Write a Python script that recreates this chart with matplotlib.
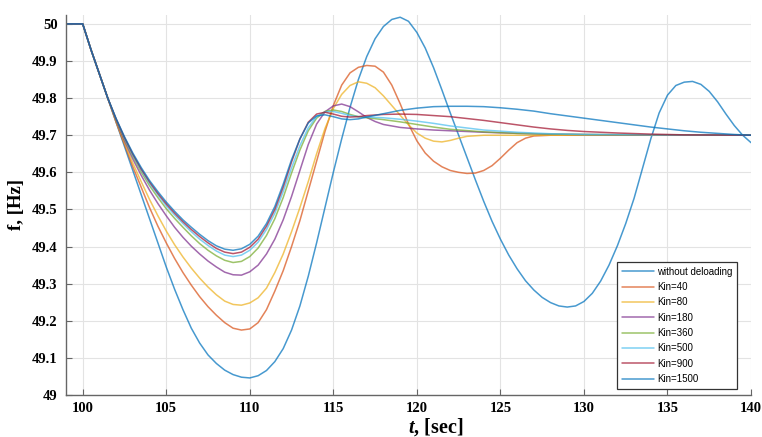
import matplotlib.pyplot as plt

# frequency response f(t) for the different deloading gains
no_deload = [(99, 50), (100, 50), (100.5, 49.93), (101, 49.865), (101.5, 49.80), (102, 49.735),
             (102.5, 49.67), (103, 49.605), (103.5, 49.54), (104, 49.475), (104.5, 49.41),
             (105, 49.345), (105.5, 49.285), (106, 49.23), (106.5, 49.18), (107, 49.14),
             (107.5, 49.108), (108, 49.085), (108.5, 49.067), (109, 49.055), (109.5, 49.048),
             (110, 49.046), (110.5, 49.052), (111, 49.066), (111.5, 49.09), (112, 49.125),
             (112.5, 49.175), (113, 49.24), (113.5, 49.32), (114, 49.41), (114.5, 49.505),
             (115, 49.60), (115.5, 49.69), (116, 49.775), (116.5, 49.85), (117, 49.912),
             (117.5, 49.96), (118, 49.993), (118.5, 50.012), (119, 50.018), (119.5, 50.007),
             (120, 49.977), (120.5, 49.935), (121, 49.882), (121.5, 49.822), (122, 49.76),
             (122.5, 49.70), (123, 49.64), (123.5, 49.58), (124, 49.522), (124.5, 49.468),
             (125, 49.42), (125.5, 49.377), (126, 49.34), (126.5, 49.308), (127, 49.283),
             (127.5, 49.263), (128, 49.249), (128.5, 49.24), (129, 49.237), (129.5, 49.24),
             (130, 49.252), (130.5, 49.274), (131, 49.307), (131.5, 49.35), (132, 49.402),
             (132.5, 49.462), (133, 49.53), (133.5, 49.61), (134, 49.69), (134.5, 49.76),
             (135, 49.808), (135.5, 49.834), (136, 49.843), (136.5, 49.845), (137, 49.837),
             (137.5, 49.818), (138, 49.79), (138.5, 49.757), (139, 49.726), (139.5, 49.70),
             (140, 49.68)]

kin40 = [(99, 50), (100, 50), (100.5, 49.93), (101, 49.865), (101.5, 49.80), (102, 49.735),
         (102.5, 49.675), (103, 49.615), (103.5, 49.56), (104, 49.505), (104.5, 49.455),
         (105, 49.41), (105.5, 49.368), (106, 49.33), (106.5, 49.296), (107, 49.265),
         (107.5, 49.238), (108, 49.215), (108.5, 49.195), (109, 49.18),
         (109.5, 49.175), (110, 49.178), (110.5, 49.195), (111, 49.23), (111.5, 49.28),
         (112, 49.335), (112.5, 49.40), (113, 49.47), (113.5, 49.55), (114, 49.63),
         (114.5, 49.71), (115, 49.78), (115.5, 49.835), (116, 49.868), (116.5, 49.883),
         (117, 49.888), (117.5, 49.886), (118, 49.87), (118.5, 49.835), (119, 49.785),
         (119.5, 49.73), (120, 49.685), (120.5, 49.652), (121, 49.63), (121.5, 49.615),
         (122, 49.605), (122.5, 49.60), (123, 49.597), (123.5, 49.598), (124, 49.605),
         (124.5, 49.618), (125, 49.638), (125.5, 49.66), (126, 49.68), (126.5, 49.692),
         (127, 49.698), (128, 49.70), (130, 49.70), (140, 49.70)]

kin80 = [(99, 50), (100, 50), (100.5, 49.93), (101, 49.865), (101.5, 49.80), (102, 49.737),
         (102.5, 49.68), (103, 49.625), (103.5, 49.575), (104, 49.527), (104.5, 49.483),
         (105, 49.442), (105.5, 49.405), (106, 49.372), (106.5, 49.342), (107, 49.315),
         (107.5, 49.291), (108, 49.27), (108.5, 49.253), (109, 49.244),
         (109.5, 49.242), (110, 49.248), (110.5, 49.262), (111, 49.288), (111.5, 49.33),
         (112, 49.38), (112.5, 49.44), (113, 49.505), (113.5, 49.575), (114, 49.65),
         (114.5, 49.718), (115, 49.772), (115.5, 49.81), (116, 49.834), (116.5, 49.844),
         (117, 49.84), (117.5, 49.828), (118, 49.806), (118.5, 49.78), (119, 49.754),
         (119.5, 49.728), (120, 49.706), (120.5, 49.692), (121, 49.684), (121.5, 49.682),
         (122, 49.686), (122.5, 49.692), (123, 49.697), (124, 49.70), (140, 49.70)]

kin180 = [(99, 50), (100, 50), (100.5, 49.93), (101, 49.865), (101.5, 49.80), (102, 49.74),
          (102.5, 49.685), (103, 49.636), (103.5, 49.592), (104, 49.552), (104.5, 49.516),
          (105, 49.483), (105.5, 49.452), (106, 49.425), (106.5, 49.401), (107, 49.38),
          (107.5, 49.361), (108, 49.345), (108.5, 49.331), (109, 49.324),
          (109.5, 49.323), (110, 49.332), (110.5, 49.35), (111, 49.38), (111.5, 49.42),
          (112, 49.472), (112.5, 49.535), (113, 49.605), (113.5, 49.675), (114, 49.73),
          (114.5, 49.763), (115, 49.779), (115.5, 49.784), (116, 49.777), (116.5, 49.763),
          (117, 49.748), (117.5, 49.737), (118, 49.729), (119, 49.721), (120, 49.717),
          (121, 49.714), (122, 49.712), (124, 49.708), (126, 49.705), (128, 49.703),
          (130, 49.702), (135, 49.70), (140, 49.70)]

kin360 = [(99, 50), (100, 50), (100.5, 49.93), (101, 49.865), (101.5, 49.80), (102, 49.742),
          (102.5, 49.69), (103, 49.643), (103.5, 49.601), (104, 49.564), (104.5, 49.532),
          (105, 49.502), (105.5, 49.476), (106, 49.452), (106.5, 49.429), (107, 49.408),
          (107.5, 49.39), (108, 49.375), (108.5, 49.363), (109, 49.357),
          (109.5, 49.36), (110, 49.373), (110.5, 49.396), (111, 49.43), (111.5, 49.475),
          (112, 49.532), (112.5, 49.598), (113, 49.66), (113.5, 49.712), (114, 49.746),
          (114.5, 49.764), (115, 49.768), (115.5, 49.764), (116, 49.756), (116.5, 49.75),
          (117, 49.747), (118, 49.742), (119, 49.736), (120, 49.729), (121, 49.722),
          (122, 49.716), (124, 49.709), (126, 49.705), (128, 49.703), (130, 49.702), (140, 49.70)]

kin500 = [(99, 50), (100, 50), (100.5, 49.93), (101, 49.865), (101.5, 49.80), (102, 49.743),
          (102.5, 49.692), (103, 49.646), (103.5, 49.606), (104, 49.57), (104.5, 49.539),
          (105, 49.51), (105.5, 49.485), (106, 49.462), (106.5, 49.44), (107, 49.42),
          (107.5, 49.403), (108, 49.388), (108.5, 49.377), (109, 49.373),
          (109.5, 49.377), (110, 49.39), (110.5, 49.412), (111, 49.446), (111.5, 49.49),
          (112, 49.548), (112.5, 49.612), (113, 49.672), (113.5, 49.72), (114, 49.75),
          (114.5, 49.763), (115, 49.764), (115.5, 49.759), (116, 49.753), (116.5, 49.75),
          (117, 49.749), (118, 49.747), (119, 49.743), (120, 49.738), (121, 49.732),
          (122, 49.725), (124, 49.714), (126, 49.708), (128, 49.704), (130, 49.702), (140, 49.70)]

kin900 = [(99, 50), (100, 50), (100.5, 49.93), (101, 49.865), (101.5, 49.80), (102, 49.744),
          (102.5, 49.694), (103, 49.649), (103.5, 49.609), (104, 49.574), (104.5, 49.543),
          (105, 49.515), (105.5, 49.49), (106, 49.467), (106.5, 49.446), (107, 49.427),
          (107.5, 49.41), (108, 49.395), (108.5, 49.385), (109, 49.381),
          (109.5, 49.385), (110, 49.398), (110.5, 49.42), (111, 49.455), (111.5, 49.50),
          (112, 49.56), (112.5, 49.628), (113, 49.69), (113.5, 49.735), (114, 49.757),
          (114.5, 49.762), (115, 49.757), (115.5, 49.751), (116, 49.749), (116.5, 49.75),
          (117, 49.753), (118, 49.756), (119, 49.757), (120, 49.756), (121, 49.753),
          (122, 49.75), (123, 49.745), (124, 49.74), (125, 49.734), (126, 49.728),
          (127, 49.722), (128, 49.717), (129, 49.713), (130, 49.71), (132, 49.706),
          (134, 49.703), (136, 49.701), (140, 49.70)]

kin1500 = [(99, 50), (100, 50), (100.5, 49.93), (101, 49.865), (101.5, 49.80), (102, 49.745),
           (102.5, 49.696), (103, 49.652), (103.5, 49.613), (104, 49.578), (104.5, 49.548),
           (105, 49.52), (105.5, 49.495), (106, 49.472), (106.5, 49.452), (107, 49.433),
           (107.5, 49.416), (108, 49.402), (108.5, 49.393), (109, 49.39),
           (109.5, 49.394), (110, 49.406), (110.5, 49.428), (111, 49.462), (111.5, 49.508),
           (112, 49.568), (112.5, 49.634), (113, 49.69), (113.5, 49.733), (114, 49.752),
           (114.5, 49.755), (115, 49.75), (115.5, 49.744), (116, 49.742), (116.5, 49.744),
           (117, 49.749), (118, 49.758), (119, 49.767), (120, 49.773), (121, 49.777),
           (122, 49.778), (123, 49.778), (124, 49.777), (125, 49.774), (126, 49.77),
           (127, 49.765), (128, 49.758), (129, 49.752), (130, 49.746), (131, 49.74),
           (132, 49.734), (133, 49.728), (134, 49.722), (135, 49.717), (136, 49.712),
           (137, 49.708), (138, 49.705), (139, 49.702), (140, 49.70)]

series = [no_deload, kin40, kin80, kin180, kin360, kin500, kin900, kin1500]
labels = ['without deloading', 'Kin=40', 'Kin=80', 'Kin=180', 'Kin=360',
          'Kin=500', 'Kin=900', 'Kin=1500']
# MATLAB default colour order (wraps for the 8th line)
colors = ['#0072BD', '#D95319', '#EDB120', '#7E2F8E', '#77AC30', '#4DBEEE', '#A2142F', '#0072BD']

x_ticks = [100, 105, 110, 115, 120, 125, 130, 135, 140]
y_ticks = [49.0, 49.1, 49.2, 49.3, 49.4, 49.5, 49.6, 49.7, 49.8, 49.9, 50.0]
y_tick_labels = ['49', '49.1', '49.2', '49.3', '49.4', '49.5', '49.6', '49.7', '49.8', '49.9', '50']

plt.rcParams['font.family'] = 'Liberation Serif'
plt.rcParams['mathtext.fontset'] = 'custom'
plt.rcParams['mathtext.it'] = 'Liberation Serif:italic:bold'

fig = plt.figure(figsize=(7.62, 4.37), dpi=100)
ax = fig.add_axes([0.0866, 0.0961, 0.899, 0.8696])

for pts, lab, col in zip(series, labels, colors):
    t = [p[0] for p in pts]
    f = [p[1] for p in pts]
    ax.plot(t, f, color=col, lw=1.1, alpha=0.72, label=lab,
            solid_joinstyle='round', solid_capstyle='round')

ax.set_xlim(99, 140)
ax.set_ylim(49, 50.024)
ax.set_xticks(x_ticks)
ax.set_yticks(y_ticks)
ax.set_yticklabels(y_tick_labels)
ax.grid(True, color='#e3e3e3', lw=0.8)
ax.set_axisbelow(True)

ax.spines['top'].set_visible(False)
ax.spines['right'].set_visible(False)
for side in ['left', 'bottom']:
    ax.spines[side].set_color('#666666')
    ax.spines[side].set_linewidth(1.0)
ax.tick_params(direction='in', length=4, color='#666666', labelsize=10.5)
ax.tick_params(axis='y', pad=6)
ax.tick_params(axis='x', pad=5)
for lbl in ax.get_xticklabels() + ax.get_yticklabels():
    lbl.set_fontweight('bold')

ax.set_ylabel('f, [Hz]', fontsize=13.5, fontweight='bold')
ax.yaxis.set_label_coords(-0.060, 0.5)
fig.text(436 / 762, 1 - 427 / 437, r'$\mathit{t}$, [sec]', ha='center', va='center',
         fontsize=14.5, fontweight='bold')

leg = ax.legend(loc='lower right', bbox_to_anchor=(737 / 762, 1 - 389 / 437),
                bbox_transform=fig.transFigure, prop={'family': 'Liberation Sans', 'size': 7},
                fancybox=False, edgecolor='#333333', framealpha=1, handlelength=3.3,
                handletextpad=0.3, labelspacing=0.55, borderpad=0.5, borderaxespad=0)
leg.get_frame().set_linewidth(0.9)

fig.savefig('out.png', dpi=100)
plt.close()
